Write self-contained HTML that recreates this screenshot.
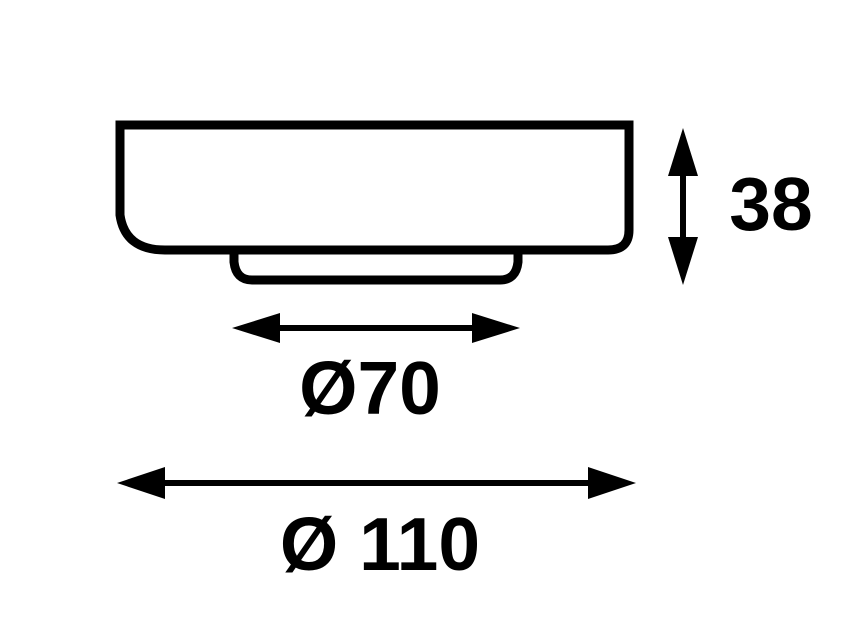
<!DOCTYPE html>
<html><head><style>html,body{margin:0;padding:0;background:#fff;}svg{display:block}</style></head>
<body>
<svg width="850" height="630" viewBox="0 0 850 630" xmlns="http://www.w3.org/2000/svg">
<g fill="none" stroke="#000" stroke-width="9" stroke-linejoin="miter">
<path d="M120,125 L629,125 L629,230 Q629,250 608,250 L165,250 Q125,250 120,215 Z"/>
<path d="M234,250 L234,262 Q236,280 252,280 L500,280 Q516,280 518,262 L518,250"/>
</g>
<g stroke="#000" stroke-width="6">
<line x1="270" y1="328" x2="485" y2="328"/>
<line x1="155" y1="483" x2="600" y2="483"/>
<line x1="683" y1="170" x2="683" y2="245"/>
</g>
<g fill="#000">
<polygon points="232,328 280,313 280,343"/>
<polygon points="520,328 472,313 472,343"/>
<polygon points="117,483 165,467 165,499"/>
<polygon points="636,483 588,467 588,499"/>
<polygon points="683,128 668,176 698,176"/>
<polygon points="683,285 668,237 698,237"/>
</g>
<g font-family="Liberation Sans, sans-serif" font-weight="bold" font-size="75" fill="#000">
<text x="370" y="414" text-anchor="middle">Ø70</text>
<text x="380" y="570" text-anchor="middle">Ø 110</text>
<text x="771" y="230" text-anchor="middle">38</text>
</g>
</svg>
</body></html>
